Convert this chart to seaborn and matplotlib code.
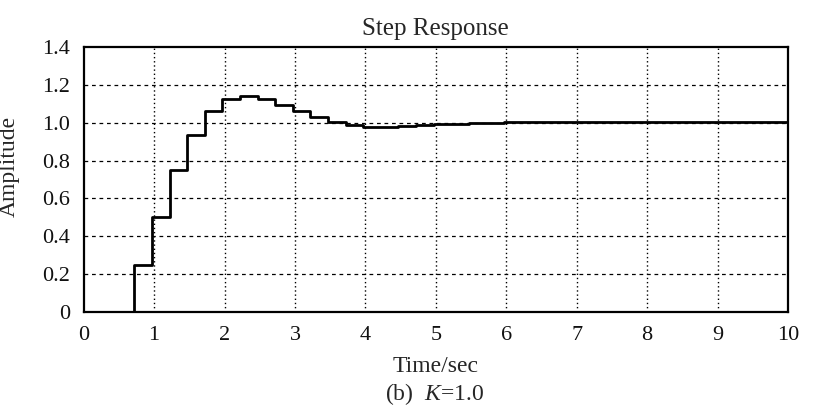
import matplotlib
matplotlib.use("Agg")
import matplotlib.pyplot as plt
import pandas as pd
import seaborn as sns

# sampled step response (zero-order hold), K = 1.0
time_sec = [0.0, 0.72, 0.97, 1.22, 1.47, 1.72, 1.97, 2.22, 2.47, 2.72, 2.97,
            3.22, 3.47, 3.72, 3.97, 4.22, 4.47, 4.72, 4.97, 5.22, 5.47,
            5.72, 5.97, 6.5, 7.0, 8.0, 9.0, 10.0]
amplitude = [0.0, 0.25, 0.50, 0.75, 0.935, 1.063, 1.124, 1.141, 1.124, 1.095,
             1.062, 1.032, 1.005, 0.99, 0.98, 0.98, 0.983, 0.987, 0.992, 0.996,
             0.999, 1.0, 1.002, 1.003, 1.003, 1.002, 1.002, 1.002]
x_ticks = list(range(0, 11))
y_ticks = [0, 0.2, 0.4, 0.6, 0.8, 1.0, 1.2, 1.4]
y_tick_labels = ["0", "0.2", "0.4", "0.6", "0.8", "1.0", "1.2", "1.4"]

sns.set_style("white")
plt.rcParams["font.family"] = ["Liberation Serif", "DejaVu Serif"]
plt.rcParams["mathtext.fontset"] = "custom"
plt.rcParams["mathtext.it"] = "Liberation Serif:italic"

df = pd.DataFrame({"t": time_sec, "y": amplitude})

fig = plt.figure(figsize=(8.2, 4.2), dpi=100)
ax = fig.add_axes([0.102, 0.257, 0.859, 0.631])

sns.lineplot(data=df, x="t", y="y", ax=ax, color="black", linewidth=2.0,
             drawstyle="steps-post")

ax.set_xlim(0, 10)
ax.set_ylim(0, 1.4)
ax.set_xticks(x_ticks)
ax.set_yticks(y_ticks)
ax.set_yticklabels(y_tick_labels)
ax.tick_params(axis="both", length=0, labelsize=16, colors="#111111")
ax.tick_params(axis="y", pad=10)
ax.tick_params(axis="x", pad=10)

for xv in x_ticks[1:-1]:
    ax.axvline(xv, color="black", linestyle=(0, (1, 2)), linewidth=1.0, zorder=0)
for yv in y_ticks[1:-1]:
    ax.axhline(yv, color="black", linestyle=(0, (3, 3)), linewidth=0.9, zorder=0)

for spine in ax.spines.values():
    spine.set_color("black")
    spine.set_linewidth(1.6)

ax.set_title("Step Response", fontsize=18, pad=9)
ax.set_xlabel("Time/sec", fontsize=17, labelpad=8)
ax.set_ylabel("Amplitude", fontsize=17)
ax.yaxis.set_label_coords(-0.09, 0.55)
fig.text(0.53, 0.062, r"(b)  $K$=1.0", ha="center", va="center", fontsize=17)

fig.savefig("out.png", dpi=100)
